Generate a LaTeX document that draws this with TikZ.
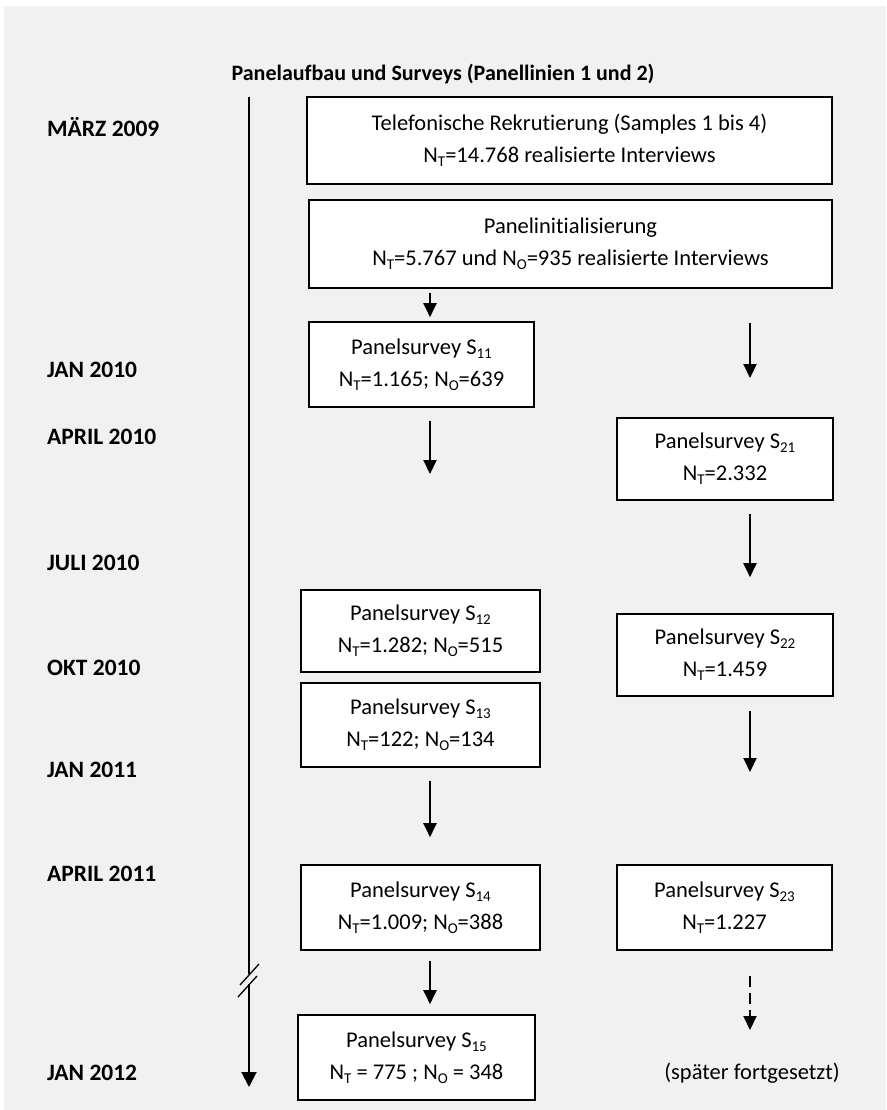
\documentclass[tikz,border=0pt]{standalone}
\usepackage{fontspec}
\setmainfont{Carlito}[Ligatures=NoCommon]
\usetikzlibrary{arrows.meta}
\newcommand\sbs[1]{\raisebox{-4pt}{\fontsize{15}{14}\selectfont #1}}
\definecolor{bggray}{HTML}{F1F1F1}
\tikzset{
  box/.style={draw=black, fill=white, line width=1.6pt, align=center, inner sep=0pt,
    font=\fontsize{22.5}{32}\selectfont},
  datelabel/.style={anchor=west, inner sep=0pt, font=\fontsize{23.5}{26}\selectfont\bfseries},
  arr/.style={line width=2pt, -{Triangle[width=13pt,length=14pt]}},
  dasharr/.style={arr, dash pattern=on 11pt off 6pt},
  timeline/.style={line width=1.3pt},
}
\begin{document}
\begin{tikzpicture}[x=1pt,y=-1pt]
\useasboundingbox (0,0) rectangle (886,1110);
\fill[white] (0,0) rectangle (886,1110);
\fill[bggray] (4,6) rectangle (886,1110);

\node[font=\fontsize{22}{26}\selectfont\bfseries] (title) at (443,74) {Panelaufbau und Surveys (Panellinien 1 und 2)};

% dates
\node[datelabel] (d1) at (47,127) {MÄRZ 2009};
\node[datelabel] (d2) at (47,370) {JAN 2010};
\node[datelabel] (d3) at (47,437) {APRIL 2010};
\node[datelabel] (d4) at (47,563) {JULI 2010};
\node[datelabel] (d5) at (47,668) {OKT 2010};
\node[datelabel] (d6) at (47,770) {JAN 2011};
\node[datelabel] (d7) at (47,874) {APRIL 2011};
\node[datelabel] (d8) at (47,1073) {JAN 2012};

% timeline
\coordinate (t0) at (249,97);
\coordinate (t1) at (249,974);
\coordinate (t2) at (249,984);
\coordinate (t3) at (249,1087);
\draw[timeline] (t0) -- (t1);
\draw[line width=2pt, -{Triangle[width=15pt,length=15pt]}] (t2) -- (t3);
\coordinate (k1a) at (240,985);
\coordinate (k1b) at (259,964);
\coordinate (k2a) at (238,997);
\coordinate (k2b) at (257,976);
\draw[timeline] (k1a) -- (k1b);
\draw[timeline] (k2a) -- (k2b);

% boxes
\node[box, minimum width=525pt, minimum height=87pt] (b1) at (569.5,140.5)
  {Telefonische Rekrutierung (Samples 1 bis 4)\\N\sbs{T}=14.768 realisierte Interviews};
\node[box, minimum width=523pt, minimum height=88pt] (b2) at (570.5,244)
  {Panelinitialisierung\\N\sbs{T}=5.767 und N\sbs{O}=935 realisierte Interviews};
\node[box, minimum width=225pt, minimum height=85pt] (s11) at (421.5,364.5)
  {Panelsurvey S\sbs{11}\\N\sbs{T}=1.165; N\sbs{O}=639};
\node[box, minimum width=216pt, minimum height=82pt] (s21) at (725,459)
  {Panelsurvey S\sbs{21}\\N\sbs{T}=2.332};
\node[box, minimum width=239pt, minimum height=82pt] (s12) at (420.5,631)
  {Panelsurvey S\sbs{12}\\N\sbs{T}=1.282; N\sbs{O}=515};
\node[box, minimum width=216pt, minimum height=82pt] (s22) at (725,655)
  {Panelsurvey S\sbs{22}\\N\sbs{T}=1.459};
\node[box, minimum width=239pt, minimum height=84pt] (s13) at (420.5,725)
  {Panelsurvey S\sbs{13}\\N\sbs{T}=122; N\sbs{O}=134};
\node[box, minimum width=239pt, minimum height=85pt] (s14) at (420.5,907.5)
  {Panelsurvey S\sbs{14}\\N\sbs{T}=1.009; N\sbs{O}=388};
\node[box, minimum width=215pt, minimum height=85pt] (s23) at (724.5,907.5)
  {Panelsurvey S\sbs{23}\\N\sbs{T}=1.227};
\node[box, minimum width=237pt, minimum height=85pt] (s15) at (416.5,1057.5)
  {Panelsurvey S\sbs{15}\\N\sbs{T} = 775 ; N\sbs{O} = 348};

\node[font=\fontsize{22.5}{26}\selectfont, inner sep=0pt] (later) at (752,1073) {(später fortgesetzt)};

% columns
\coordinate (colL) at (430,0);
\coordinate (colR) at (750,0);
\coordinate (r1end) at (750,378);
\coordinate (l2end) at (430,474);
\coordinate (r3end) at (750,772);
\coordinate (r4end) at (750,1030);

% arrows
\draw[arr, shorten <=4pt, shorten >=4pt] (b2.south -| colL) -- (s11.north -| colL);
\draw[arr, shorten <=34pt] (b2.south -| colR) -- (r1end);
\draw[arr, shorten <=13pt] (s11.south -| colL) -- (l2end);
\draw[arr, shorten <=13pt, shorten >=36pt] (s21.south -| colR) -- (s22.north -| colR);
\draw[arr, shorten <=14pt] (s22.south -| colR) -- (r3end);
\draw[arr, shorten <=13pt, shorten >=27pt] (s13.south -| colL) -- (s14.north -| colL);
\draw[arr, shorten <=10pt, shorten >=10pt] (s14.south -| colL) -- (s15.north -| colL);
\draw[dasharr, shorten <=25pt] (s23.south -| colR) -- (r4end);
\end{tikzpicture}
\end{document}
